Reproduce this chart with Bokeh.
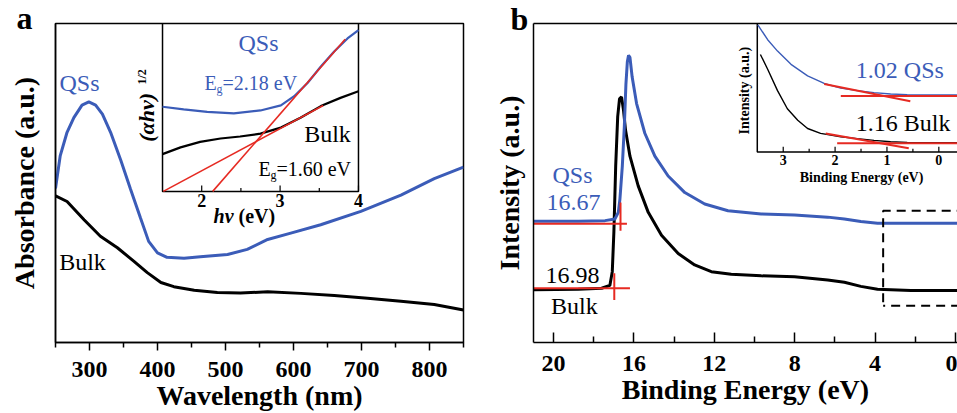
import math
from bokeh.plotting import figure
from bokeh.models import Range1d, FixedTicker, Label, LinearAxis, Title
from bokeh.layouts import row
from bokeh.embed import file_html
from bokeh.resources import INLINE
from bokeh.core.properties import value

BLUE = "#3b5cb8"
RED = "#e62a22"
BLACK = "#000000"
SERIF = "Liberation Serif"

# ---------------- Panel a: absorbance ----------------
wl_qs = [250, 257, 267, 277, 289, 299, 309, 319, 331, 346, 360, 375, 387, 400, 414, 439, 463,
         503, 532, 562, 596, 640, 699, 758, 807, 850]
abs_qs = [0.483, 0.586, 0.659, 0.705, 0.744, 0.754, 0.744, 0.716, 0.659, 0.571, 0.483, 0.390,
          0.317, 0.281, 0.267, 0.264, 0.269, 0.276, 0.292, 0.323, 0.343, 0.369, 0.411, 0.462,
          0.514, 0.550]
wl_bulk = [250, 267, 292, 316, 341, 365, 385, 405, 424, 454, 488, 522, 562, 611, 660, 709, 758,
           807, 850]
abs_bulk = [0.460, 0.442, 0.385, 0.333, 0.297, 0.255, 0.219, 0.188, 0.175, 0.164, 0.157, 0.155,
            0.159, 0.154, 0.147, 0.139, 0.129, 0.119, 0.102]
wl_ticks = [300, 400, 500, 600, 700, 800]
wl_minor = [250, 350, 450, 550, 650, 750, 850]

# inset a: Tauc plot
hv_qs = [1.5, 1.77, 2.07, 2.41, 2.75, 3.01, 3.18, 3.35, 3.52, 3.69, 3.86, 4.0]
tauc_qs = [0.504, 0.488, 0.474, 0.465, 0.482, 0.512, 0.567, 0.646, 0.744, 0.833, 0.911, 0.961]
hv_bulk = [1.5, 1.73, 1.98, 2.24, 2.49, 2.75, 3.01, 3.26, 3.52, 3.77, 4.0]
tauc_bulk = [0.222, 0.262, 0.295, 0.315, 0.327, 0.344, 0.380, 0.439, 0.508, 0.557, 0.596]
fit_qs_x = [2.14, 3.83]
fit_qs_y = [0.0, 0.906]
fit_bulk_x = [1.51, 3.55]
fit_bulk_y = [0.0, 0.512]
hv_ticks = [2, 3, 4]
hv_minor = [2.5, 3.5]

# ---------------- Panel b: UPS ----------------
be_qs = [21.0, 18.77, 17.44, 16.95, 16.78, 16.70, 16.58, 16.48, 16.40, 16.33, 16.27, 16.20, 16.09,
         15.87, 15.46, 14.96, 14.30, 13.47, 12.48, 11.32, 9.67, 8.01, 6.36, 5.53, 4.71, 3.88,
         2.22, -0.1]
int_qs = [0.380, 0.380, 0.382, 0.387, 0.408, 0.449, 0.553, 0.677, 0.811, 0.880, 0.900, 0.894,
          0.832, 0.749, 0.656, 0.584, 0.522, 0.470, 0.434, 0.413, 0.403, 0.400, 0.393, 0.387,
          0.379, 0.374, 0.374, 0.374]
be_bulk = [21.0, 18.77, 17.61, 17.20, 17.08, 17.00, 16.91, 16.81, 16.72, 16.62, 16.52, 16.42,
           16.20, 15.79, 15.29, 14.63, 13.80, 12.98, 12.15, 11.16, 9.67, 8.01, 6.36, 5.53, 4.71,
           3.88, 2.22, -0.1]
int_bulk = [0.165, 0.167, 0.170, 0.179, 0.222, 0.346, 0.553, 0.708, 0.764, 0.770, 0.728, 0.666,
            0.584, 0.491, 0.408, 0.336, 0.279, 0.243, 0.222, 0.214, 0.209, 0.206, 0.196, 0.189,
            0.176, 0.167, 0.163, 0.163]
be_ticks = [20, 16, 12, 8, 4, 0]
be_minor = [18, 14, 10, 6, 2]
cutoff_qs = 16.67
cutoff_bulk = 16.98
base_qs = 0.372
base_bulk = 0.170
box_left = 3.6
box_bottom = 0.115
box_top = 0.413

# inset b: valence band edge
vb_qs_x = [3.49, 3.30, 3.11, 2.85, 2.53, 2.21, 1.89, 1.57, 1.25, 0.93, 0.61, -0.35]
vb_qs_y = [0.990, 0.874, 0.785, 0.682, 0.592, 0.533, 0.497, 0.477, 0.462, 0.451, 0.446, 0.444]
vb_bulk_x = [3.44, 3.30, 3.11, 2.92, 2.72, 2.53, 2.28, 1.89, 1.57, 1.25, 0.93, 0.61, -0.35]
vb_bulk_y = [0.759, 0.644, 0.477, 0.336, 0.246, 0.182, 0.144, 0.118, 0.103, 0.090, 0.079,
             0.074, 0.072]
tan_qs_x = [2.21, 0.55]
tan_qs_y = [0.528, 0.395]
flat_qs_x = [1.89, -0.36]
flat_qs_y = [0.436, 0.436]
tan_bulk_x = [2.18, 0.58]
tan_bulk_y = [0.144, 0.028]
flat_bulk_x = [1.96, -0.36]
flat_bulk_y = [0.067, 0.067]
vb_ticks = [3, 2, 1, 0]
vb_minor = [2.5, 1.5, 0.5]


def ext_range(v0, v1, f0, f1):
    span = (v1 - v0) / (f1 - f0)
    start = v0 - f0 * span
    return Range1d(start, start + span)


def label(p, x, y, text, size, color=BLACK, style="normal", align="center",
          baseline="middle", angle=0.0, xr="default", yr="default", xo=0, yo=0):
    p.add_layout(Label(x=x, y=y, text=text, text_font=SERIF, text_font_size=f"{size}px",
                       text_font_style=style, text_color=color, text_align=align,
                       text_baseline=baseline, angle=angle, x_range_name=xr,
                       y_range_name=yr, x_offset=xo, y_offset=yo))


def style_axis(ax, size=24):
    ax.axis_line_width = 1.5
    ax.major_tick_line_width = 1.5
    ax.minor_tick_line_width = 1.5
    ax.major_label_text_font = SERIF
    ax.major_label_text_font_size = f"{size}px"
    ax.major_label_text_font_style = "bold"
    ax.major_label_text_color = BLACK


def title_axis(ax, text, standoff):
    ax.axis_label = text
    ax.axis_label_text_font = SERIF
    ax.axis_label_text_font_size = "28px"
    ax.axis_label_text_font_style = "bold"
    ax.axis_label_text_color = BLACK
    ax.axis_label_standoff = standoff


def hide_axis(ax):
    ax.ticker = FixedTicker(ticks=[])
    ax.major_tick_out = 0
    ax.major_tick_in = 0
    ax.minor_tick_out = 0
    ax.minor_tick_in = 0
    ax.major_label_text_font_size = "0px"
    ax.axis_line_width = 1.5


def panel_tag(p, text, offset, standoff):
    p.add_layout(Title(text=text, align="left", offset=offset, standoff=standoff,
                       text_font=SERIF, text_font_size="32px", text_font_style="bold",
                       text_color=BLACK), "above")


# ================= figure a =================
pa = figure(width=490, height=413, x_range=Range1d(250, 850), y_range=Range1d(0, 1),
            output_backend="svg", toolbar_location=None,
            min_border_left=55, min_border_right=27, min_border_top=23, min_border_bottom=67)
pa.grid.visible = False
pa.outline_line_color = BLACK
pa.outline_line_width = 1.5
xa = pa.xaxis[0]
xa.ticker = FixedTicker(ticks=wl_ticks, minor_ticks=wl_minor)
xa.major_tick_out = 8
xa.major_tick_in = 0
xa.minor_tick_out = 5
xa.minor_tick_in = 0
style_axis(xa)
xa.major_label_standoff = 11
title_axis(xa, "Wavelength (nm)", 0)
ya = pa.yaxis[0]
hide_axis(ya)
title_axis(ya, "Absorbance (a.u.)", 16)
panel_tag(pa, "a", -39, -25)

pa.line(wl_bulk, abs_bulk, line_color=BLACK, line_width=3)
pa.line(wl_qs, abs_qs, line_color=BLUE, line_width=3)
label(pa, 285.3, 0.814, "QSs", 24, BLUE)
label(pa, 289.7, 0.251, "Bulk", 24)

# inset a
pa.extra_x_ranges = {"ix": ext_range(1.5, 4.0, 0.2623, 0.7426)}
pa.extra_y_ranges = {"iy": ext_range(0.0, 1.0, 0.4737, 1.0)}
ins = dict(x_range_name="ix", y_range_name="iy")
pa.line([1.5, 1.5, 4.0, 4.0], [1.0, 0.0, 0.0, 1.0], line_color=BLACK, line_width=1.5, **ins)
pa.segment(x0=hv_ticks, y0=[0] * 3, x1=hv_ticks, y1=[0.035] * 3, line_color=BLACK,
           line_width=1.2, **ins)
pa.segment(x0=hv_minor, y0=[0] * 2, x1=hv_minor, y1=[0.02] * 2, line_color=BLACK,
           line_width=1.2, **ins)
pa.text(x=hv_ticks, y=[0] * 3, text=[str(t) for t in hv_ticks], text_font=value(SERIF),
        text_font_size="18px", text_font_style="bold", text_align="center",
        text_baseline="top", y_offset=3, **ins)
pa.line(hv_bulk, tauc_bulk, line_color=BLACK, line_width=2.2, **ins)
pa.line(hv_qs, tauc_qs, line_color=BLUE, line_width=2.2, **ins)
pa.line(fit_bulk_x, fit_bulk_y, line_color=RED, line_width=1.6, **ins)
pa.line(fit_qs_x, fit_qs_y, line_color=RED, line_width=1.6, **ins)
label(pa, 2.724, 0.882, "QSs", 24, BLUE, xr="ix", yr="iy")
label(pa, 2.036, 0.647, "E", 20, BLUE, align="left", baseline="alphabetic", xr="ix", yr="iy")
label(pa, 2.036, 0.647, "g", 12, BLUE, align="left", baseline="alphabetic", xr="ix", yr="iy",
      xo=12, yo=-6)
label(pa, 2.036, 0.647, "=2.18 eV", 20, BLUE, align="left", baseline="alphabetic", xr="ix",
      yr="iy", xo=18)
label(pa, 3.605, 0.341, "Bulk", 24, xr="ix", yr="iy")
label(pa, 2.724, 0.135, "E", 20, align="left", baseline="alphabetic", xr="ix", yr="iy")
label(pa, 2.724, 0.135, "g", 12, align="left", baseline="alphabetic", xr="ix", yr="iy",
      xo=12, yo=-6)
label(pa, 2.724, 0.135, "=1.60 eV", 20, align="left", baseline="alphabetic", xr="ix", yr="iy",
      xo=18)
label(pa, 2.406, -0.147, "hν", 20, style="bold italic", align="right", xr="ix", yr="iy")
label(pa, 2.469, -0.147, "(eV)", 20, style="bold", align="left", xr="ix", yr="iy")
label(pa, 1.296, 0.441, "(αhν)", 22, style="bold italic", angle=math.pi / 2, xr="ix", yr="iy")
label(pa, 1.232, 0.682, "1/2", 12, style="bold", angle=math.pi / 2, xr="ix", yr="iy")

# ================= figure b =================
pb = figure(width=467, height=413, x_range=Range1d(21, -0.1), y_range=Range1d(0, 1),
            output_backend="svg", toolbar_location=None,
            min_border_left=42, min_border_right=0, min_border_top=22, min_border_bottom=68)
pb.grid.visible = False
pb.outline_line_color = None
xb = pb.xaxis[0]
xb.ticker = FixedTicker(ticks=be_ticks, minor_ticks=be_minor)
xb.major_tick_in = 10
xb.major_tick_out = 0
xb.minor_tick_in = 6
xb.minor_tick_out = 0
style_axis(xb)
xb.major_label_standoff = 13
title_axis(xb, "Binding Energy (eV)", 0)
yb = pb.yaxis[0]
hide_axis(yb)
title_axis(yb, "Intensity (a.u.)", 9)
top_axis = LinearAxis()
hide_axis(top_axis)
pb.add_layout(top_axis, "above")
panel_tag(pb, "b", -23, -27)

pb.line(be_bulk, int_bulk, line_color=BLACK, line_width=3)
pb.line(be_qs, int_qs, line_color=BLUE, line_width=3)
pb.line([21, 16.35], [base_qs, base_qs], line_color=RED, line_width=2)
pb.line([cutoff_qs, cutoff_qs], [0.350, 0.439], line_color=RED, line_width=2)
pb.line([21, 16.2], [base_bulk, base_bulk], line_color=RED, line_width=2)
pb.line([cutoff_bulk, cutoff_bulk], [0.133, 0.217], line_color=RED, line_width=2)
pb.line([-2, box_left, box_left], [box_top, box_top, box_bottom], line_color=BLACK,
        line_width=2, line_dash="9 6")
pb.line([box_left, -2], [box_bottom, box_bottom], line_color=BLACK, line_width=2,
        line_dash="9 6", line_dash_offset=-8)
label(pb, 19.06, 0.526, "QSs", 24, BLUE)
label(pb, 19.01, 0.440, "16.67", 24, BLUE)
label(pb, 19.06, 0.211, "16.98", 24)
label(pb, 18.97, 0.115, "Bulk", 24)

# inset b
pb.extra_x_ranges = {"ix": ext_range(3.5, -0.36, 0.5278, 1.0)}
pb.extra_y_ranges = {"iy": ext_range(0.0, 1.0, 0.5975, 1.0)}
pb.line([3.5, 3.5, -1.0], [1.0, 0.0, 0.0], line_color=BLACK, line_width=1.5, **ins)
pb.segment(x0=vb_ticks, y0=[0] * 4, x1=vb_ticks, y1=[0.04] * 4, line_color=BLACK,
           line_width=1.2, **ins)
pb.segment(x0=vb_minor, y0=[0] * 3, x1=vb_minor, y1=[0.025] * 3, line_color=BLACK,
           line_width=1.2, **ins)
pb.text(x=vb_ticks, y=[0] * 4, text=[str(t) for t in vb_ticks], text_font=value(SERIF),
        text_font_size="14px", text_font_style="bold", text_align="center",
        text_baseline="top", y_offset=3, **ins)
pb.line(vb_bulk_x, vb_bulk_y, line_color=BLACK, line_width=1.4, **ins)
pb.line(vb_qs_x, vb_qs_y, line_color=BLUE, line_width=1.4, **ins)
pb.line(tan_qs_x, tan_qs_y, line_color=RED, line_width=2, **ins)
pb.line(flat_qs_x, flat_qs_y, line_color=RED, line_width=2, **ins)
pb.line(tan_bulk_x, tan_bulk_y, line_color=RED, line_width=2, **ins)
pb.line(flat_bulk_x, flat_bulk_y, line_color=RED, line_width=2, **ins)
label(pb, 1.60, 0.638, "1.02 QSs", 24, BLUE, align="left", xr="ix", yr="iy")
label(pb, 1.60, 0.223, "1.16 Bulk", 24, align="left", xr="ix", yr="iy")
label(pb, 1.49, -0.2, "Binding Energy (eV)", 14, style="bold", xr="ix", yr="iy")
label(pb, 3.756, 0.477, "Intensity (a.u.)", 14, style="bold", angle=math.pi / 2,
      xr="ix", yr="iy")

layout = row(pa, pb)
open("out.html", "w").write(file_html(layout, INLINE))
